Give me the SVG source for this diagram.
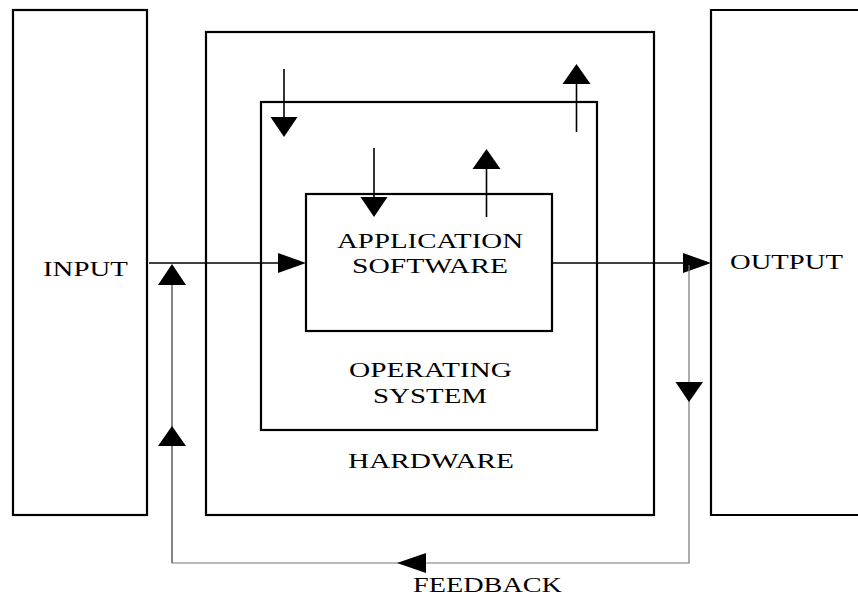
<svg xmlns="http://www.w3.org/2000/svg" width="858" height="597" viewBox="0 0 858 597">
<style>
.box{fill:none;stroke:#000;stroke-width:2.2}
.ln{fill:none;stroke:#000;stroke-width:1.6}
.fb{fill:none;stroke:#777;stroke-width:1.2}
.fbk{fill:none;stroke:#222;stroke-width:1.1}
.ah{fill:#000;stroke:none}
text{font-family:"Liberation Serif","Times New Roman",serif;font-size:22px;fill:#000}
</style>
<rect width="858" height="597" fill="#fff"/>
<g id="input">
<rect class="box" x="13" y="10" width="134" height="505"/>
<text transform="scale(1.3,1)" x="33.08" y="276" textLength="65.38" lengthAdjust="spacingAndGlyphs">INPUT</text>
</g>
<g id="output">
<path class="box" d="M870,10 H711 V515 H870"/>
<text transform="scale(1.3,1)" x="561.54" y="269" textLength="86.92" lengthAdjust="spacingAndGlyphs">OUTPUT</text>
</g>
<g id="hardware">
<rect class="box" x="206" y="32" width="448" height="483"/>
<text transform="scale(1.3,1)" x="267.69" y="468" textLength="127.69" lengthAdjust="spacingAndGlyphs">HARDWARE</text>
</g>
<g id="os">
<rect class="box" x="261" y="102" width="336" height="328"/>
<text transform="scale(1.3,1)" x="268.46" y="377" textLength="125.38" lengthAdjust="spacingAndGlyphs">OPERATING</text>
<text transform="scale(1.3,1)" x="286.92" y="403" textLength="87.69" lengthAdjust="spacingAndGlyphs">SYSTEM</text>
</g>
<g id="app">
<rect class="box" x="306" y="194" width="246" height="137"/>
<text transform="scale(1.3,1)" x="259.23" y="248" textLength="143.08" lengthAdjust="spacingAndGlyphs">APPLICATION</text>
<text transform="scale(1.3,1)" x="270.77" y="273" textLength="120" lengthAdjust="spacingAndGlyphs">SOFTWARE</text>
</g>
<g id="connectors">
<line class="ln" x1="149" y1="263" x2="280" y2="263"/>
<polygon class="ah" points="306,263 278,253 278,273"/>
<line class="ln" x1="553" y1="263" x2="685" y2="263"/>
<polygon class="ah" points="711,263 683,253 683,273"/>
<line class="ln" x1="284" y1="69" x2="284" y2="120"/>
<polygon class="ah" points="284,137 270.5,117 297.5,117"/>
<line class="ln" x1="576.5" y1="132" x2="576.5" y2="82"/>
<polygon class="ah" points="576.5,64 562.5,84 590.5,84"/>
<line class="ln" x1="374" y1="148" x2="374" y2="200"/>
<polygon class="ah" points="374,217 360.5,197 387.5,197"/>
<line class="ln" x1="486.5" y1="217" x2="486.5" y2="167"/>
<polygon class="ah" points="486.5,149 472.5,169 500.5,169"/>
<path class="fb" d="M689,265 V563 H172"/>
<line class="fbk" x1="172" y1="563" x2="172" y2="266"/>
<polygon class="ah" points="689,402 675.5,382 703,382"/>
<polygon class="ah" points="397,563 426,553 426,573"/>
<polygon class="ah" points="172,264 158,285 186,285"/>
<polygon class="ah" points="172,426 158,446 186,446"/>
<text transform="scale(1.3,1)" x="317.69" y="592" textLength="114.62" lengthAdjust="spacingAndGlyphs">FEEDBACK</text>
</g>
</svg>
